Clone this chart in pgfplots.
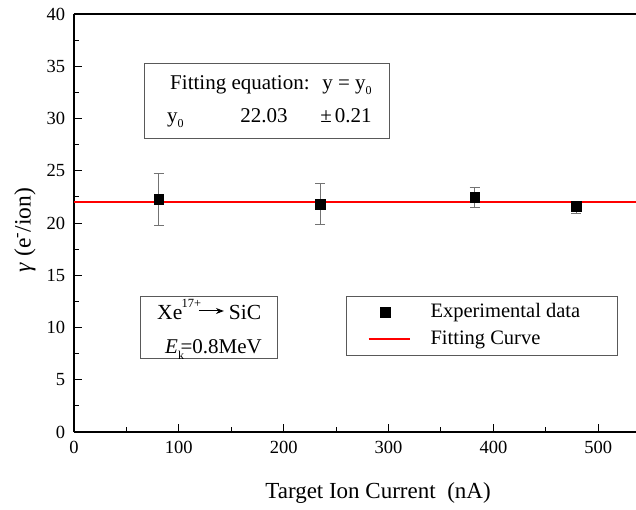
\documentclass[border=0pt]{standalone}
\usepackage{fontspec}
\setmainfont{Liberation Serif}
\usepackage{pgfplots}
\pgfplotsset{compat=1.18}
\usetikzlibrary{arrows.meta}
\pgfplotsset{
  legA/.style={legend image code/.code={\path (0pt,0pt) (41pt,0pt);\draw[mark repeat=2,mark phase=2,##1] plot coordinates {(0pt,0pt)(17pt,0pt)(34pt,0pt)};}},
  legB/.style={legend image code/.code={\draw[##1] (0pt,0pt) -- (41pt,0pt);}},
}
\newcommand{\sub}[1]{\raisebox{-5pt}{\fontsize{12}{13}\selectfont #1}}
\begin{document}
\fontsize{20}{23}\selectfont
\begin{tikzpicture}
\begin{axis}[
  name=ax,
  scale only axis, width=562pt, height=418pt,
  xmin=0, xmax=536, ymin=0, ymax=40,
  axis x line=bottom, axis y line=left,
  axis line style={-, line width=1.2pt},
  tick align=inside,
  xtick={0,100,...,500}, minor x tick num=1,
  ytick={0,5,...,40}, minor y tick num=1,
  major tick length=8pt, minor tick length=5pt,
  tick style={line width=1pt, black},
  /pgf/number format/assume math mode=true,
  ticklabel style={font=\fontsize{18.5}{20}\selectfont},
  xticklabel style={yshift=-2pt},
  yticklabel style={xshift=-2pt},
  xlabel={Target Ion Current\ \ (nA)},
  ylabel={\textit{γ} (e\textsuperscript{-}/ion)},
  every axis x label/.style={at={(rel axis cs:0,0)}, xshift=304pt, yshift=-61pt, anchor=center, font=\fontsize{23}{26}\selectfont},
  every axis y label/.style={at={(rel axis cs:0,0.5)}, xshift=-49pt, yshift=-7pt, rotate=90, anchor=center, font=\fontsize{23.5}{26}\selectfont},
  legend cell align=left,
  legend style={at={(rel axis cs:0.484,0.326)}, anchor=north west,
    draw=black!65, line width=1pt, inner xsep=21pt, inner ysep=5.5pt,
    row sep=6pt, font=\fontsize{20.5}{23}\selectfont},
]
\draw[line width=1.2pt] (rel axis cs:0,1) -- (rel axis cs:1,1);
\coordinate (ll) at (rel axis cs:0,0);
\coordinate (ur) at (rel axis cs:1,1);
\addplot+[only marks, mark=square*, black, mark size=4.7pt,
  mark options={fill=black}, legA,
  error bars/.cd, y dir=both, y explicit,
  error bar style={black!55, line width=1pt},
  error mark options={rotate=90, black!55, mark size=5pt, line width=1pt}]
  coordinates {
  (80.8,22.27) += (0,2.5) -= (0,2.55)
  (234.7,21.8) += (0,1.95) -= (0,1.9)
  (382,22.45) += (0,0.95) -= (0,0.95)
  (479,21.6) += (0,0.5) -= (0,0.7)
  };
\addlegendentry{\hspace*{18pt}Experimental data\rule{14pt}{0pt}}
\addplot[red, line width=2pt, legB] coordinates {(0,22.03) (536,22.03)};
\addlegendentry{\hspace*{18pt}Fitting Curve}
% fitting equation box
\draw[black!65, line width=1pt] (axis cs:66.8,35.22) rectangle (axis cs:300.6,28.04);
\tikzset{fb/.style={anchor=base west, inner sep=0pt, font=\fontsize{21}{23}\selectfont}}
\node[fb] at (axis cs:91.6,32.82) {Fitting equation:};
\node[fb] at (axis cs:236.6,32.82) {y = y\sub{0}};
\node[fb] at (axis cs:88.7,29.57) {y\sub{0}};
\node[fb] at (axis cs:158.4,29.57) {22.03};
\node[fb] at (axis cs:234.7,29.57) {±\kern3pt0.21};
% Xe box
\draw[black!65, line width=1pt] (axis cs:63,12.92) rectangle (axis cs:193.7,7.08);
\node[fb, font=\fontsize{21.5}{23}\selectfont] at (axis cs:79.2,10.72) {Xe};
\node[anchor=base west, inner sep=0pt, font=\fontsize{12.5}{13}\selectfont] at (axis cs:102.5,11.96) {17+};
\draw[-{Stealth[length=8pt,width=6pt]}, line width=1pt] (axis cs:119,11.58) -- (axis cs:143,11.58);
\node[fb, font=\fontsize{21.5}{23}\selectfont] at (axis cs:147.5,10.72) {SiC};
\node[fb] at (axis cs:86.8,7.56) {\textit{E}\raisebox{-6pt}{\fontsize{12}{13}\selectfont k}\kern-3.5pt=0.8MeV};
\end{axis}
\pgfresetboundingbox
\path[use as bounding box] ([shift={(-74pt,-77pt)}]ll) rectangle ([shift={(0pt,14pt)}]ur);
\end{tikzpicture}
\end{document}
